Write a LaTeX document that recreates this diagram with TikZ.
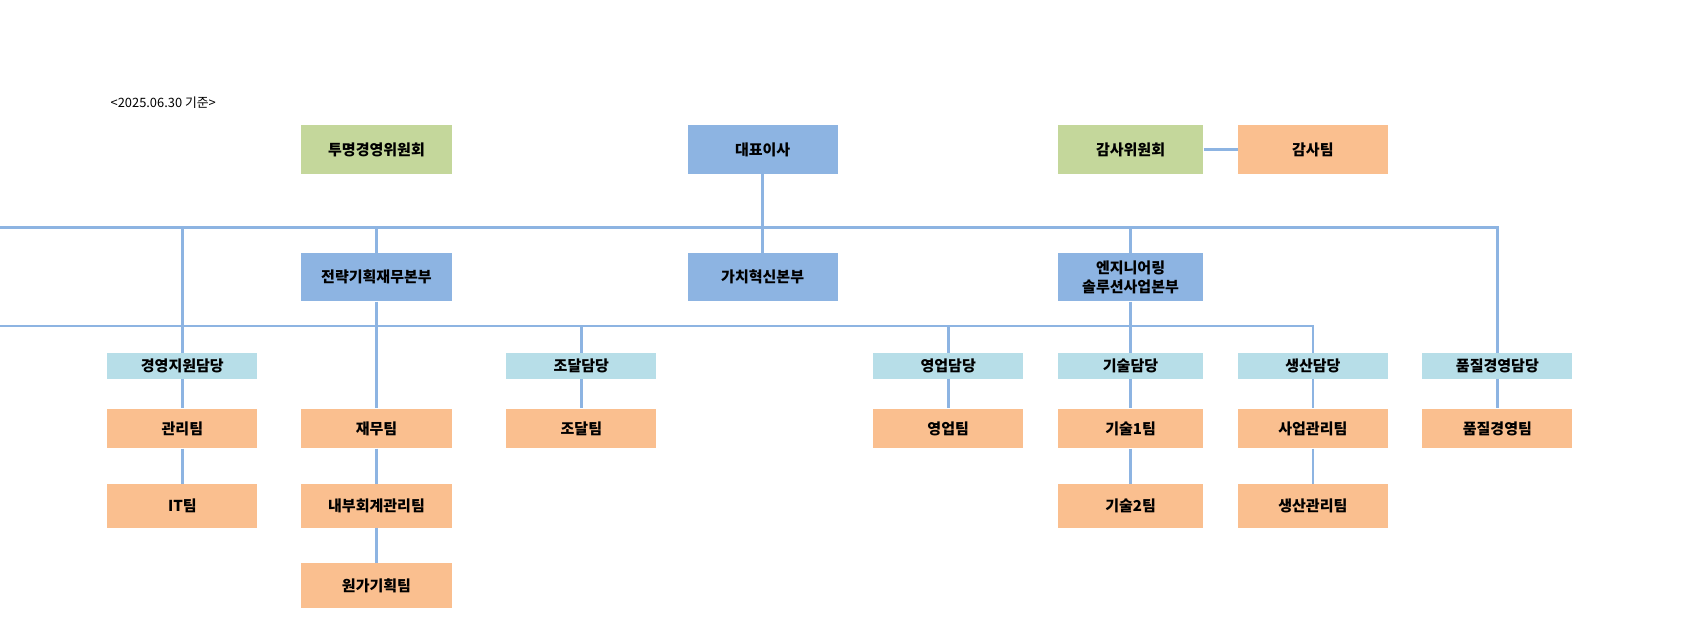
\documentclass[tikz,border=0pt]{standalone}
\usepackage{fontspec}
\setmainfont{Noto Sans CJK KR}
\begin{document}
\begin{tikzpicture}[x=1pt,y=-1pt,
 box/.style={inner sep=0pt,font=\fontsize{14}{17}\selectfont\bfseries,align=center,text=black},
 gr/.style={box,fill={rgb,255:red,196;green,215;blue,155}},
 bl/.style={box,fill={rgb,255:red,141;green,180;blue,226}},
 lb/.style={box,fill={rgb,255:red,183;green,222;blue,232}},
 og/.style={box,fill={rgb,255:red,250;green,191;blue,143}},
 ln/.style={draw={rgb,255:red,141;green,180;blue,226},line width=2.6pt}]
\useasboundingbox (0,0) rectangle (1570,597);
\newcommand\bx[7]{\node[#1,minimum width=#4-#3,minimum height=#6-#5] (#2) at ({(#3+#4)/2},{(#5+#6)/2}) {#7};}
\node[anchor=west,font=\fontsize{12}{14}\selectfont,inner sep=0pt] (note) at (103,96) {<2025.06.30 기준>};
\bx{gr}{tm}{281}{421}{117}{162}{투명경영위원회}
\bx{bl}{ceo}{641}{781}{117}{162}{대표이사}
\bx{gr}{gs}{986}{1122}{117}{162}{감사위원회}
\bx{og}{gst}{1154}{1294}{117}{162}{감사팀}
\bx{bl}{st}{281}{421}{236}{281}{전략기획재무본부}
\bx{bl}{gc}{641}{781}{236}{281}{가치혁신본부}
\bx{bl}{en}{986}{1122}{236}{281}{엔지니어링\\솔루션사업본부}
\bx{lb}{d1}{100}{240}{329}{353}{경영지원담당}
\bx{lb}{d2}{472}{612}{329}{353}{조달담당}
\bx{lb}{d3}{814}{954}{329}{353}{영업담당}
\bx{lb}{d4}{986}{1122}{329}{353}{기술담당}
\bx{lb}{d5}{1154}{1294}{329}{353}{생산담당}
\bx{lb}{d6}{1326}{1466}{329}{353}{품질경영담당}
\bx{og}{t1}{100}{240}{381}{418}{관리팀}
\bx{og}{t2}{281}{421}{381}{418}{재무팀}
\bx{og}{t3}{472}{612}{381}{418}{조달팀}
\bx{og}{t4}{814}{954}{381}{418}{영업팀}
\bx{og}{t5}{986}{1122}{381}{418}{기술1팀}
\bx{og}{t6}{1154}{1294}{381}{418}{사업관리팀}
\bx{og}{t7}{1326}{1466}{381}{418}{품질경영팀}
\bx{og}{u1}{100}{240}{451}{492}{IT팀}
\bx{og}{u2}{281}{421}{451}{492}{내부회계관리팀}
\bx{og}{u5}{986}{1122}{451}{492}{기술2팀}
\bx{og}{u6}{1154}{1294}{451}{492}{생산관리팀}
\bx{og}{v2}{281}{421}{525}{567}{원가기획팀}
\begin{scope}[on background layer/.style={}]
\draw[ln] (gs) -- (gst);
\draw[ln] (ceo) -- (ceo.south|-0,212);
\draw[ln] (d1.north) |- (0,212) -| (d6.north);
\draw[ln] (st.north) -- (st.north|-0,212);
\draw[ln] (gc.north) -- (gc.north|-0,212);
\draw[ln] (en.north) -- (en.north|-0,212);
\draw[ln] (d1) -- (t1); \draw[ln] (t1) -- (u1);
\draw[ln] (st) -- (t2); \draw[ln] (t2) -- (u2); \draw[ln] (u2) -- (v2);
\draw[ln] (st.south|-0,304) -| (d2.north); \draw[ln] (d2) -- (t3);
\draw[ln] (d3.north) |- (0,304) -| (d5.north);
\draw[ln] (en) -- (d4); \draw[ln] (d3) -- (t4); \draw[ln] (d4) -- (t5); \draw[ln] (t5) -- (u5);
\draw[ln] (d5) -- (t6); \draw[ln] (t6) -- (u6); \draw[ln] (d6) -- (t7);
\end{scope}
\end{tikzpicture}
\end{document}
